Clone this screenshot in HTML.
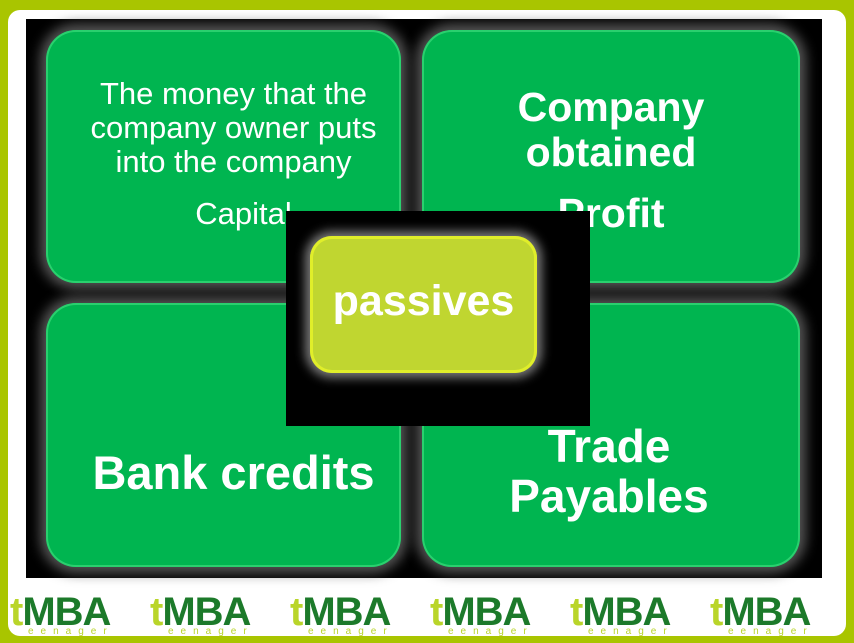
<!DOCTYPE html>
<html><head><style>
body{margin:0;width:854px;height:643px;background:#a9c500;position:relative;overflow:hidden;font-family:"Liberation Sans",sans-serif}
.w{position:absolute;left:8px;top:10px;width:838px;height:626px;background:#fff;border-radius:12px}
.blk{position:absolute;left:26px;top:19px;width:796px;height:559px;background:#000}
.q{position:absolute;background:#00b550;border-radius:30px;box-shadow:0 0 12px 6px #555, inset 0 0 0 2px #2ad06e;color:#fff;text-align:center}
.c{position:absolute;left:286px;top:211px;width:304px;height:215px;background:#000}
.y{position:absolute;left:310px;top:236px;width:227px;height:137px;background:#c0d630;border-radius:22px;box-shadow:0 0 10px 5px #777, inset 0 0 0 3px #e0ee2a;color:#fff;font-weight:bold;font-size:43px;text-align:center;line-height:130px}
.t{position:absolute;width:100%;text-align:center;white-space:nowrap}
.logo{position:absolute;top:590px;font-weight:bold;font-size:40px;color:#1c7a2a;letter-spacing:-1px}
.logo b{color:#b9d52a}
.logo i{position:absolute;left:18px;top:36px;font-size:10px;font-style:normal;font-weight:normal;color:#b9d52a;letter-spacing:7px}
</style></head><body>
<div class="w"></div>
<div class="blk"></div>
<div class="q" style="left:46px;top:30px;width:355px;height:253px">
 <div class="t" style="top:47px;font-size:31px;line-height:34px;left:10px">The money that the<br>company owner puts<br>into the company</div>
 <div class="t" style="top:166px;font-size:31px;left:20px;width:355px">Capital</div>
</div>
<div class="q" style="left:422px;top:30px;width:378px;height:253px">
 <div class="t" style="top:55px;font-size:41px;font-weight:bold;line-height:45px;left:0px">Company<br>obtained</div>
 <div class="t" style="top:160px;font-size:41px;font-weight:bold;left:0px">Profit</div>
</div>
<div class="q" style="left:46px;top:303px;width:355px;height:264px">
 <div class="t" style="top:142px;font-size:47px;font-weight:bold;left:10px">Bank credits</div>
</div>
<div class="q" style="left:422px;top:303px;width:378px;height:264px">
 <div class="t" style="top:118px;font-size:46px;font-weight:bold;line-height:50px;left:-2px">Trade<br>Payables</div>
</div>
<div class="c"></div>
<div class="y">passives</div>
<div class="logo" style="left:10px"><b>t</b>MBA<i>eenager</i></div>
<div class="logo" style="left:150px"><b>t</b>MBA<i>eenager</i></div>
<div class="logo" style="left:290px"><b>t</b>MBA<i>eenager</i></div>
<div class="logo" style="left:430px"><b>t</b>MBA<i>eenager</i></div>
<div class="logo" style="left:570px"><b>t</b>MBA<i>eenager</i></div>
<div class="logo" style="left:710px"><b>t</b>MBA<i>eenager</i></div>
</body></html>
